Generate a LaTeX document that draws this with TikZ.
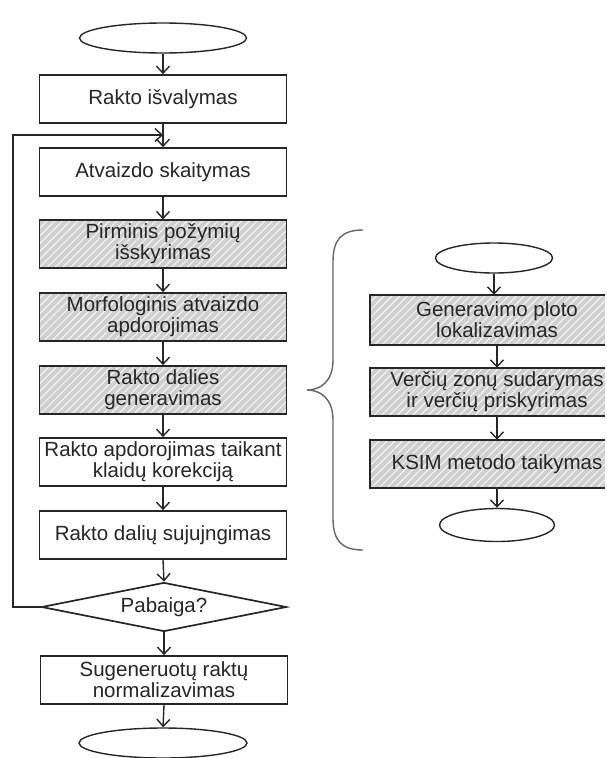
\documentclass[tikz,border=0pt]{standalone}
\usepackage{fontspec}
\setmainfont{Liberation Sans}
\usetikzlibrary{shapes.geometric,arrows.meta,patterns.meta}
\pgfdeclarelayer{bg}
\pgfsetlayers{bg,main}
\begin{document}
\begin{tikzpicture}[x=1pt,y=-1pt,
  every node/.style={font=\fontsize{20.5}{21}\selectfont, text=black!85},
  box/.style={draw=black!85, line width=1.7pt, rectangle, minimum width=247pt, minimum height=48pt, inner sep=0pt, align=center, fill=white},
  rbox/.style={rectangle, minimum width=254pt, minimum height=48pt, inner sep=0pt, align=center},
  hatch/.style={preaction={fill=black!19}, pattern={Lines[angle=45,distance=5.5pt,line width=1.2pt]}, pattern color=white!75!black!19},
  term/.style={draw=black!85, line width=1.4pt, ellipse, inner sep=0pt},
  dec/.style={draw=black!85, line width=1.7pt, diamond, aspect=5, minimum width=245pt, minimum height=49pt, inner sep=0pt},
  arr/.style={draw=black!85, line width=1.4pt, -{Straight Barb[length=7pt,width=13pt,line width=1.4pt]}},
  brace/.style={draw=black!60, line width=1.4pt}
]
\useasboundingbox (0,0) rectangle (606,758);

% left column
\node[term, minimum width=167pt, minimum height=30pt] (s) at (163,38) {};
\node[box] (b1) at (163,99) {Rakto išvalymas};
\node[box] (b2) at (163,172) {Atvaizdo skaitymas};
\node[box, hatch] (b3) at (163,244) {Pirminis požymių\\išskyrimas};
\node[box, hatch] (b4) at (163,317) {Morfologinis atvaizdo\\apdorojimas};
\node[box, hatch] (b5) at (163,390) {Rakto dalies\\generavimas};
\node[box] (b6) at (163,462) {Rakto apdorojimas taikant\\klaidų korekciją};
\node[box] (b7) at (163,535) {Rakto dalių sujujngimas};
\node[dec] (d) at (164,607) {Pabaiga?};
\node[box] (b8) at (164,680) {Sugeneruotų raktų\\normalizavimas};
\node[term, minimum width=168pt, minimum height=30pt] (e) at (163,743) {};

\coordinate (m) at (163,135);
\coordinate (c1) at (13,607);
\coordinate (c2) at (13,135);

\draw[arr] (s.south) -- (b1.north);
\draw[arr] (b1.south) -- (b2.north);
\draw[arr] (b2.south) -- (b3.north);
\draw[arr] (b3.south) -- (b4.north);
\draw[arr] (b4.south) -- (b5.north);
\draw[arr] (b5.south) -- (b6.north);
\draw[arr] (b6.south) -- (b7.north);
\draw[arr] (b7.south) -- (d.north);
\draw[arr] (d.south) -- (b8.north);
\draw[arr] (b8.south) -- (e.north);
\draw[arr] (d.west) -- (c1) -- (c2) -- (m);

% brace
\draw[brace] (363,230) .. controls (341,230) and (333,240) .. (333,262) -- (333,360)
  .. controls (333,381) and (321,390) .. (307,390)
  .. controls (321,390) and (333,399) .. (333,420) -- (333,518)
  .. controls (333,540) and (341,550) .. (363,550);

% right column
\node[term, minimum width=117pt, minimum height=30pt] (rs) at (494,258) {};
\node[rbox, minimum height=50pt] (r1) at (497,320) {Generavimo ploto\\lokalizavimas};
\node[rbox] (r2) at (497,392) {Verčių zonų sudarymas\\ir verčių priskyrimas};
\node[rbox] (r3) at (497,464) {KSIM metodo taikymas};
\node[term, minimum width=115pt, minimum height=33pt] (re) at (497,525) {};
\begin{pgfonlayer}{bg}
\foreach \n in {r1,r2,r3}{
  \fill[hatch] (\n.north west) rectangle ([xshift=-19pt]\n.south east);
  \draw[draw=black!85, line width=1.7pt] ([xshift=-19pt]\n.north east) -- (\n.north west) -- (\n.south west) -- ([xshift=-19pt]\n.south east);
}
\end{pgfonlayer}

\draw[arr] (rs.south) -- (rs.south |- r1.north);
\draw[arr] (r1.south) -- (r2.north);
\draw[arr] (r2.south) -- (r3.north);
\draw[arr] (r3.south) -- (re.north);
\end{tikzpicture}
\end{document}
